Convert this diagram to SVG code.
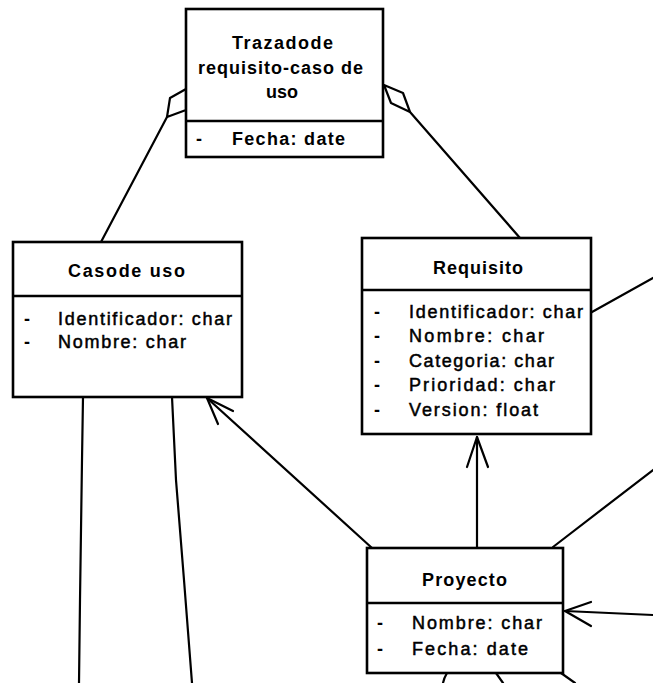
<svg xmlns="http://www.w3.org/2000/svg" width="653" height="683" viewBox="0 0 653 683" xml:space="preserve">
  <style>
    .box { fill: #ffffff; stroke: #000000; stroke-width: 2.6; }
    .sep { stroke: #000000; stroke-width: 2.4; }
    .title { font-family: "Liberation Sans", Arial, sans-serif; font-size: 18px; font-weight: bold; fill: #000000; }
    .attr { font-family: "Liberation Sans", Arial, sans-serif; font-size: 18px; fill: #000000; stroke: #000000; stroke-width: 0.5; }
    .dash { font-family: "Liberation Sans", Arial, sans-serif; font-size: 18px; font-weight: bold; fill: #000000; }
    .line { fill: none; stroke: #000000; stroke-width: 2.2; stroke-linecap: round; stroke-linejoin: round; }
    .diamond { fill: #ffffff; stroke: #000000; stroke-width: 2.2; stroke-linejoin: round; }
  </style>
  <rect width="653" height="683" fill="#ffffff"/>

  <!-- associations and navigable links -->
  <g id="connectors">
    <!-- aggregation: trace class to Caso de uso -->
    <line class="line" x1="167" y1="117" x2="101" y2="242"/>
    <polygon class="diamond" points="186,89 170,98 167,117 186,110"/>
    <!-- aggregation: trace class to Requisito -->
    <line class="line" x1="410" y1="112" x2="520" y2="238"/>
    <polygon class="diamond" points="384,85 403,93 410,112 391,103"/>
    <!-- Requisito to the right -->
    <line class="line" x1="592" y1="312" x2="653" y2="278"/>
    <!-- Proyecto corner to the right -->
    <line class="line" x1="553" y1="547" x2="653" y2="470"/>
    <!-- incoming navigable link on Proyecto -->
    <polyline class="line" points="653,615 565,611"/>
    <polyline class="line" points="591,602 565,611 591,626"/>
    <!-- Proyecto to Requisito -->
    <line class="line" x1="477" y1="548" x2="477" y2="437"/>
    <polyline class="line" points="467,467 477,437 488,467"/>
    <!-- Proyecto to Caso de uso -->
    <line class="line" x1="372" y1="548" x2="207" y2="398"/>
    <polyline class="line" points="233,411 207,398 218,424"/>
    <!-- links leaving Caso de uso downwards -->
    <polyline class="line" points="83,397 82,460 80,600 79,683"/>
    <polyline class="line" points="172,397 176,480 184,580 192,683"/>
    <!-- links leaving Proyecto downwards -->
    <path class="line" d="M447,673 Q444,678 443,683"/>
    <line class="line" x1="496" y1="673" x2="503" y2="683"/>
    <line class="line" x1="561" y1="673" x2="575" y2="683"/>
  </g>

  <!-- Trazado de requisito-caso de uso -->
  <g id="trazado">
    <rect class="box" x="186" y="9" width="197" height="148"/>
    <line class="sep" x1="186" y1="121" x2="383" y2="121"/>
    <text class="title" x="232" y="49" textLength="101" lengthAdjust="spacing">Trazadode</text>
    <text class="title" x="198" y="74" textLength="165" lengthAdjust="spacing">requisito-caso de</text>
    <text class="title" x="266" y="98">uso</text>
    <text class="dash" x="196" y="145">-</text>
    <text class="title" x="232" y="145" textLength="113" lengthAdjust="spacing">Fecha:  date</text>
  </g>

  <!-- Caso de uso -->
  <g id="caso-de-uso">
    <rect class="box" x="13" y="242" width="229" height="155"/>
    <line class="sep" x1="13" y1="296" x2="242" y2="296"/>
    <text class="title" x="68" y="277" textLength="117" lengthAdjust="spacing">Casode uso</text>
    <text class="dash" x="24" y="325">-</text>
    <text class="attr" x="58" y="325" textLength="174" lengthAdjust="spacing">Identificador:  char</text>
    <text class="dash" x="24" y="348">-</text>
    <text class="attr" x="58" y="348" textLength="128" lengthAdjust="spacing">Nombre:  char</text>
  </g>

  <!-- Requisito -->
  <g id="requisito">
    <rect class="box" x="362" y="238" width="229" height="196"/>
    <line class="sep" x1="362" y1="290" x2="591" y2="290"/>
    <text class="title" x="433" y="274" textLength="90" lengthAdjust="spacing">Requisito</text>
    <text class="dash" x="374" y="318">-</text>
    <text class="attr" x="409" y="318" textLength="174" lengthAdjust="spacing">Identificador:  char</text>
    <text class="dash" x="374" y="342">-</text>
    <text class="attr" x="409" y="342" textLength="135" lengthAdjust="spacing">Nombre:  char</text>
    <text class="dash" x="374" y="367">-</text>
    <text class="attr" x="409" y="367" textLength="145" lengthAdjust="spacing">Categoria:  char</text>
    <text class="dash" x="374" y="391">-</text>
    <text class="attr" x="409" y="391" textLength="146" lengthAdjust="spacing">Prioridad:  char</text>
    <text class="dash" x="374" y="416">-</text>
    <text class="attr" x="409" y="416" textLength="129" lengthAdjust="spacing">Version:  float</text>
  </g>

  <!-- Proyecto -->
  <g id="proyecto">
    <rect class="box" x="367" y="548" width="196" height="125"/>
    <line class="sep" x1="367" y1="603" x2="563" y2="603"/>
    <text class="title" x="422" y="586" textLength="85" lengthAdjust="spacing">Proyecto</text>
    <text class="dash" x="377" y="629">-</text>
    <text class="attr" x="412" y="629" textLength="130" lengthAdjust="spacing">Nombre:  char</text>
    <text class="dash" x="377" y="655">-</text>
    <text class="attr" x="412" y="655" textLength="116" lengthAdjust="spacing">Fecha:  date</text>
  </g>
</svg>
